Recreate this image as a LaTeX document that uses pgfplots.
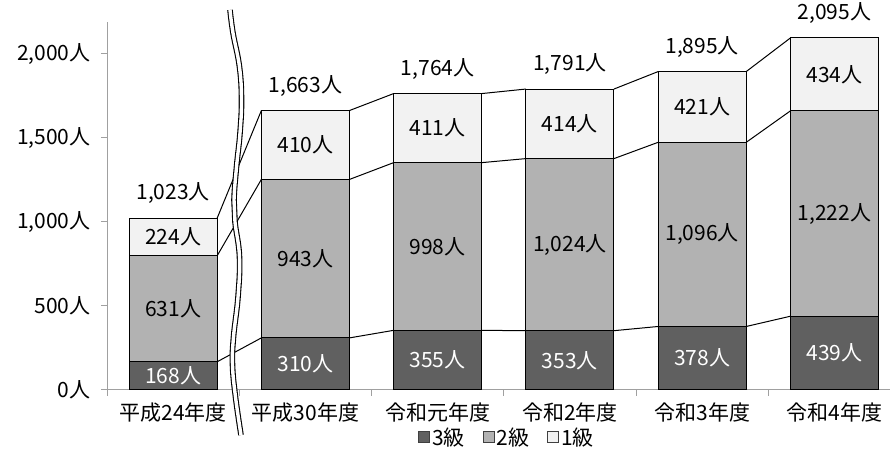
\documentclass[border=0pt]{standalone}
\usepackage{pgfplots}
\pgfplotsset{compat=1.18}
\usepackage{pgfplotstable}
\usepackage{fontspec}
\setmainfont{Noto Sans CJK JP}
\definecolor{cA}{RGB}{96,96,96}
\definecolor{cB}{RGB}{178,178,178}
\definecolor{cC}{RGB}{242,242,242}
\definecolor{axg}{RGB}{160,160,160}
\newcommand\fs{\fontsize{21pt}{24pt}\selectfont}
\pgfkeys{/pgf/number format/.cd, 1000 sep={,}, assume math mode=true}

\pgfplotstableread{
x a b c tot
0 168 631 224 1023
1 310 943 410 1663
2 355 998 411 1764
3 353 1024 414 1791
4 378 1096 421 1895
5 439 1222 434 2095
}\data

\pgfplotstableread{
x l1 l2 l3
0.333 168 799 1023
0.667 310 1253 1663
nan nan nan nan
1.333 310 1253 1663
1.667 355 1353 1764
nan nan nan nan
2.333 355 1353 1764
2.667 353 1377 1791
nan nan nan nan
3.333 353 1377 1791
3.667 378 1474 1895
nan nan nan nan
4.333 378 1474 1895
4.667 439 1661 2095
}\lines

\pgfplotsset{
  base/.style={scale only axis, width=783pt, height=368pt,
    xmin=-0.5, xmax=5.42, ymin=0, ymax=2190,
    at={(107pt,72pt)}, anchor=south west},
  lg/.style={legend image code/.code={\draw[##1, draw=black!75, line width=0.8pt] (-4pt,-5.5pt) rectangle (7pt,5.5pt);}},
  lab/.style={draw=none, mark=none, point meta=explicit,
    nodes near coords={\pgfmathprintnumber{\pgfplotspointmeta}人},
    every node near coord/.append style={anchor=center, font=\fs, text=#1}},
}

\begin{document}
\begin{tikzpicture}[font=\fs]
\useasboundingbox (0,0) rectangle (890pt,462pt);
\begin{axis}[base,
  ybar stacked, bar width=88pt,
  axis x line*=bottom, axis y line*=left,
  axis line style={axg, line width=1pt},
  tick style={axg, line width=1pt},
  tick align=outside, major tick length=6pt, minor tick length=6pt,
  ytick={0,500,1000,1500,2000},
  yticklabel={\pgfmathprintnumber{\tick}人},
  yticklabel style={font=\fs, black, xshift=-7pt},
  xtick={0,1,2,3,4,5},
  xticklabels={平成24年度,平成30年度,令和元年度,令和2年度,令和3年度,令和4年度},
  xticklabel style={font=\fs, black, yshift=-3pt},
  major x tick style={draw=none},
  minor xtick={-0.5,0.5,1.5,2.5,3.5,4.5},
  legend style={draw=none, fill=none, at={(0.511,-0.128)}, anchor=center,
    legend columns=-1, font=\fs,
    /tikz/every even column/.append style={column sep=16pt}},
  legend cell align=left,
  clip=false,
]
\addplot[fill=cA, draw=black, line width=1pt, lg] table[x=x, y=a] {\data};
\addplot[fill=cB, draw=black, line width=1pt, lg] table[x=x, y=b] {\data};
\addplot[fill=cC, draw=black, line width=1pt, lg] table[x=x, y=c] {\data};
\legend{3級,2級,1級}
\end{axis}
\begin{axis}[base, hide axis, clip=false]
\addplot[black, line width=1pt, unbounded coords=jump] table[x=x, y=l1] {\lines};
\addplot[black, line width=1pt, unbounded coords=jump] table[x=x, y=l2] {\lines};
\addplot[black, line width=1pt, unbounded coords=jump] table[x=x, y=l3] {\lines};
% segment labels, centred in each segment
\addplot[lab=white] table[x=x, y expr=\thisrow{a}/2, meta=a] {\data};
\addplot[lab=black] table[x=x, y expr=\thisrow{a}+\thisrow{b}/2, meta=b] {\data};
\addplot[lab=black] table[x=x, y expr=\thisrow{a}+\thisrow{b}+\thisrow{c}/2, meta=c] {\data};
% totals above bars
\addplot[lab=black, every node near coord/.append style={yshift=25pt}] table[x=x, y=tot, meta=tot] {\data};
\end{axis}
\draw[line width=1.1pt, double=white, double distance=3.4pt]
  plot[smooth, tension=0.7] coordinates {(230pt,452pt) (233pt,429pt) (239.5pt,395pt) (241.5pt,362pt) (240pt,329pt) (236.5pt,295pt) (234pt,262pt) (235pt,240pt) (239.5pt,205pt) (238pt,165pt) (233.5pt,125pt) (232.5pt,97pt) (235.5pt,65pt) (241pt,27pt)};
\end{tikzpicture}
\end{document}
